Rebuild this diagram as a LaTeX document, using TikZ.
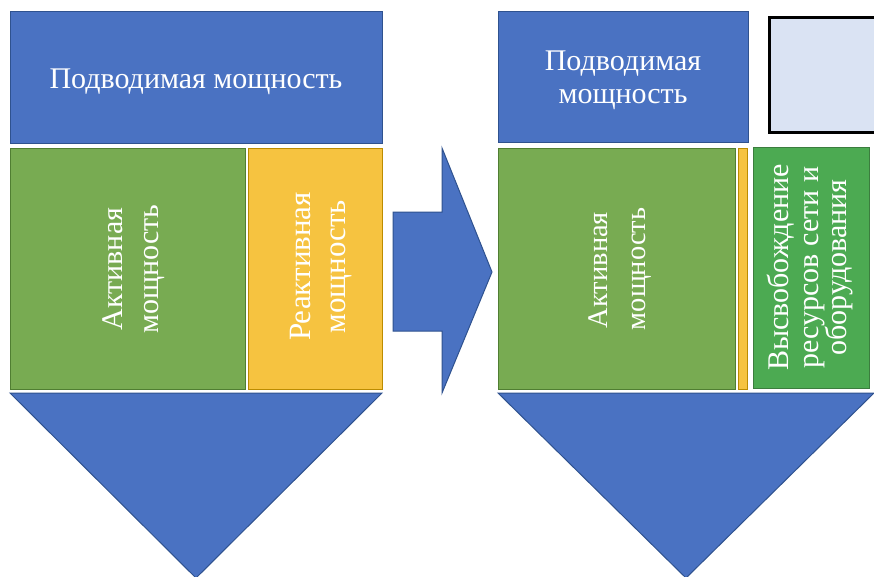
\documentclass[tikz,border=0pt]{standalone}
\usepackage{fontspec}
\setmainfont{Liberation Serif}
\definecolor{pblue}{HTML}{4A72C2}
\definecolor{pblueB}{HTML}{2F528F}
\definecolor{agreen}{HTML}{78AB52}
\definecolor{agreenB}{HTML}{507E32}
\definecolor{ryellow}{HTML}{F6C340}
\definecolor{ryellowB}{HTML}{BC8C00}
\definecolor{fgreen}{HTML}{4CAA52}
\definecolor{fgreenB}{HTML}{3B7D3E}
\definecolor{lblue}{HTML}{DAE3F3}
\begin{document}
\begin{tikzpicture}[x=1pt,y=-1pt,
  box/.style={draw, line width=1pt, inner sep=0pt},
  bluebox/.style={box, fill=pblue, draw=pblueB},
  greenbox/.style={box, fill=agreen, draw=agreenB},
  yellowbox/.style={box, fill=ryellow, draw=ryellowB},
  freebox/.style={box, fill=fgreen, draw=fgreenB},
  shapefill/.style={fill=pblue, draw=pblueB, line width=1pt, line join=miter},
  lbl/.style={text=white, inner sep=0pt, align=center},
  vlbl/.style={text=white, inner sep=0pt, rotate=90, anchor=base},
  bigtext/.style={font=\fontsize{30}{33}\selectfont},
  vtext/.style={font=\fontsize{30}{35}\selectfont},
  ytext/.style={font=\fontsize{31}{35}\selectfont},
  rtext/.style={font=\fontsize{28.5}{35}\selectfont},
  ftext/.style={font=\fontsize{30}{29}\selectfont}]
\useasboundingbox (0,0) rectangle (874,576);
\clip (0,0) rectangle (874,576);
\fill[white] (0,0) rectangle (874,576);
% left column
\node[bluebox, minimum width=372pt, minimum height=132pt] (inL) at (196,77) {};
\node[lbl, bigtext, anchor=base] (inLt) at (196,88) {Подводимая мощность};
\node[greenbox, minimum width=235pt, minimum height=241pt] (actL) at (127.5,268.5) {};
\node[vlbl, vtext] (actL1) at (122,269) {Активная};
\node[vlbl, vtext] (actL2) at (158,269) {мощность};
\node[yellowbox, minimum width=134pt, minimum height=241pt] (reaL) at (315,268.5) {};
\node[vlbl, ytext] (reaL1) at (310,266.5) {Реактивная};
\node[vlbl, ytext] (reaL2) at (345,266.5) {мощность};
\path[shapefill] (10,393) -- (382,393) -- (196,578) -- cycle;
% arrow
\path[shapefill] (393,212) -- (442,212) -- (442,148) -- (492,272) -- (442,393) -- (442,331) -- (393,331) -- cycle;
% right column
\node[bluebox, minimum width=250pt, minimum height=131pt] (inR) at (623,76.5) {};
\node[lbl, bigtext, anchor=base] (inR1) at (623,70) {Подводимая};
\node[lbl, bigtext, anchor=base] (inR2) at (623,103) {мощность};
\node[draw=black, line width=3pt, fill=lblue, minimum width=117pt, minimum height=115pt, inner sep=0pt] (blank) at (828,74.5) {};
\node[greenbox, minimum width=237pt, minimum height=241pt] (actR) at (616.5,268.5) {};
\node[vlbl, rtext] (actR1) at (607,270) {Активная};
\node[vlbl, rtext] (actR2) at (645,269) {мощность};
\node[yellowbox, minimum width=9pt, minimum height=241pt] (reaR) at (742.5,268.5) {};
\node[freebox, minimum width=116pt, minimum height=241pt] (free) at (811,267.5) {};
\node[vlbl, ftext] (free1) at (788,267.5) {Высвобождение};
\node[vlbl, ftext] (free2) at (818,267.5) {ресурсов сети и};
\node[vlbl, ftext] (free3) at (846,267.5) {оборудования};
\path[shapefill] (498,393) -- (874,393) -- (686,578) -- cycle;
\end{tikzpicture}
\end{document}
